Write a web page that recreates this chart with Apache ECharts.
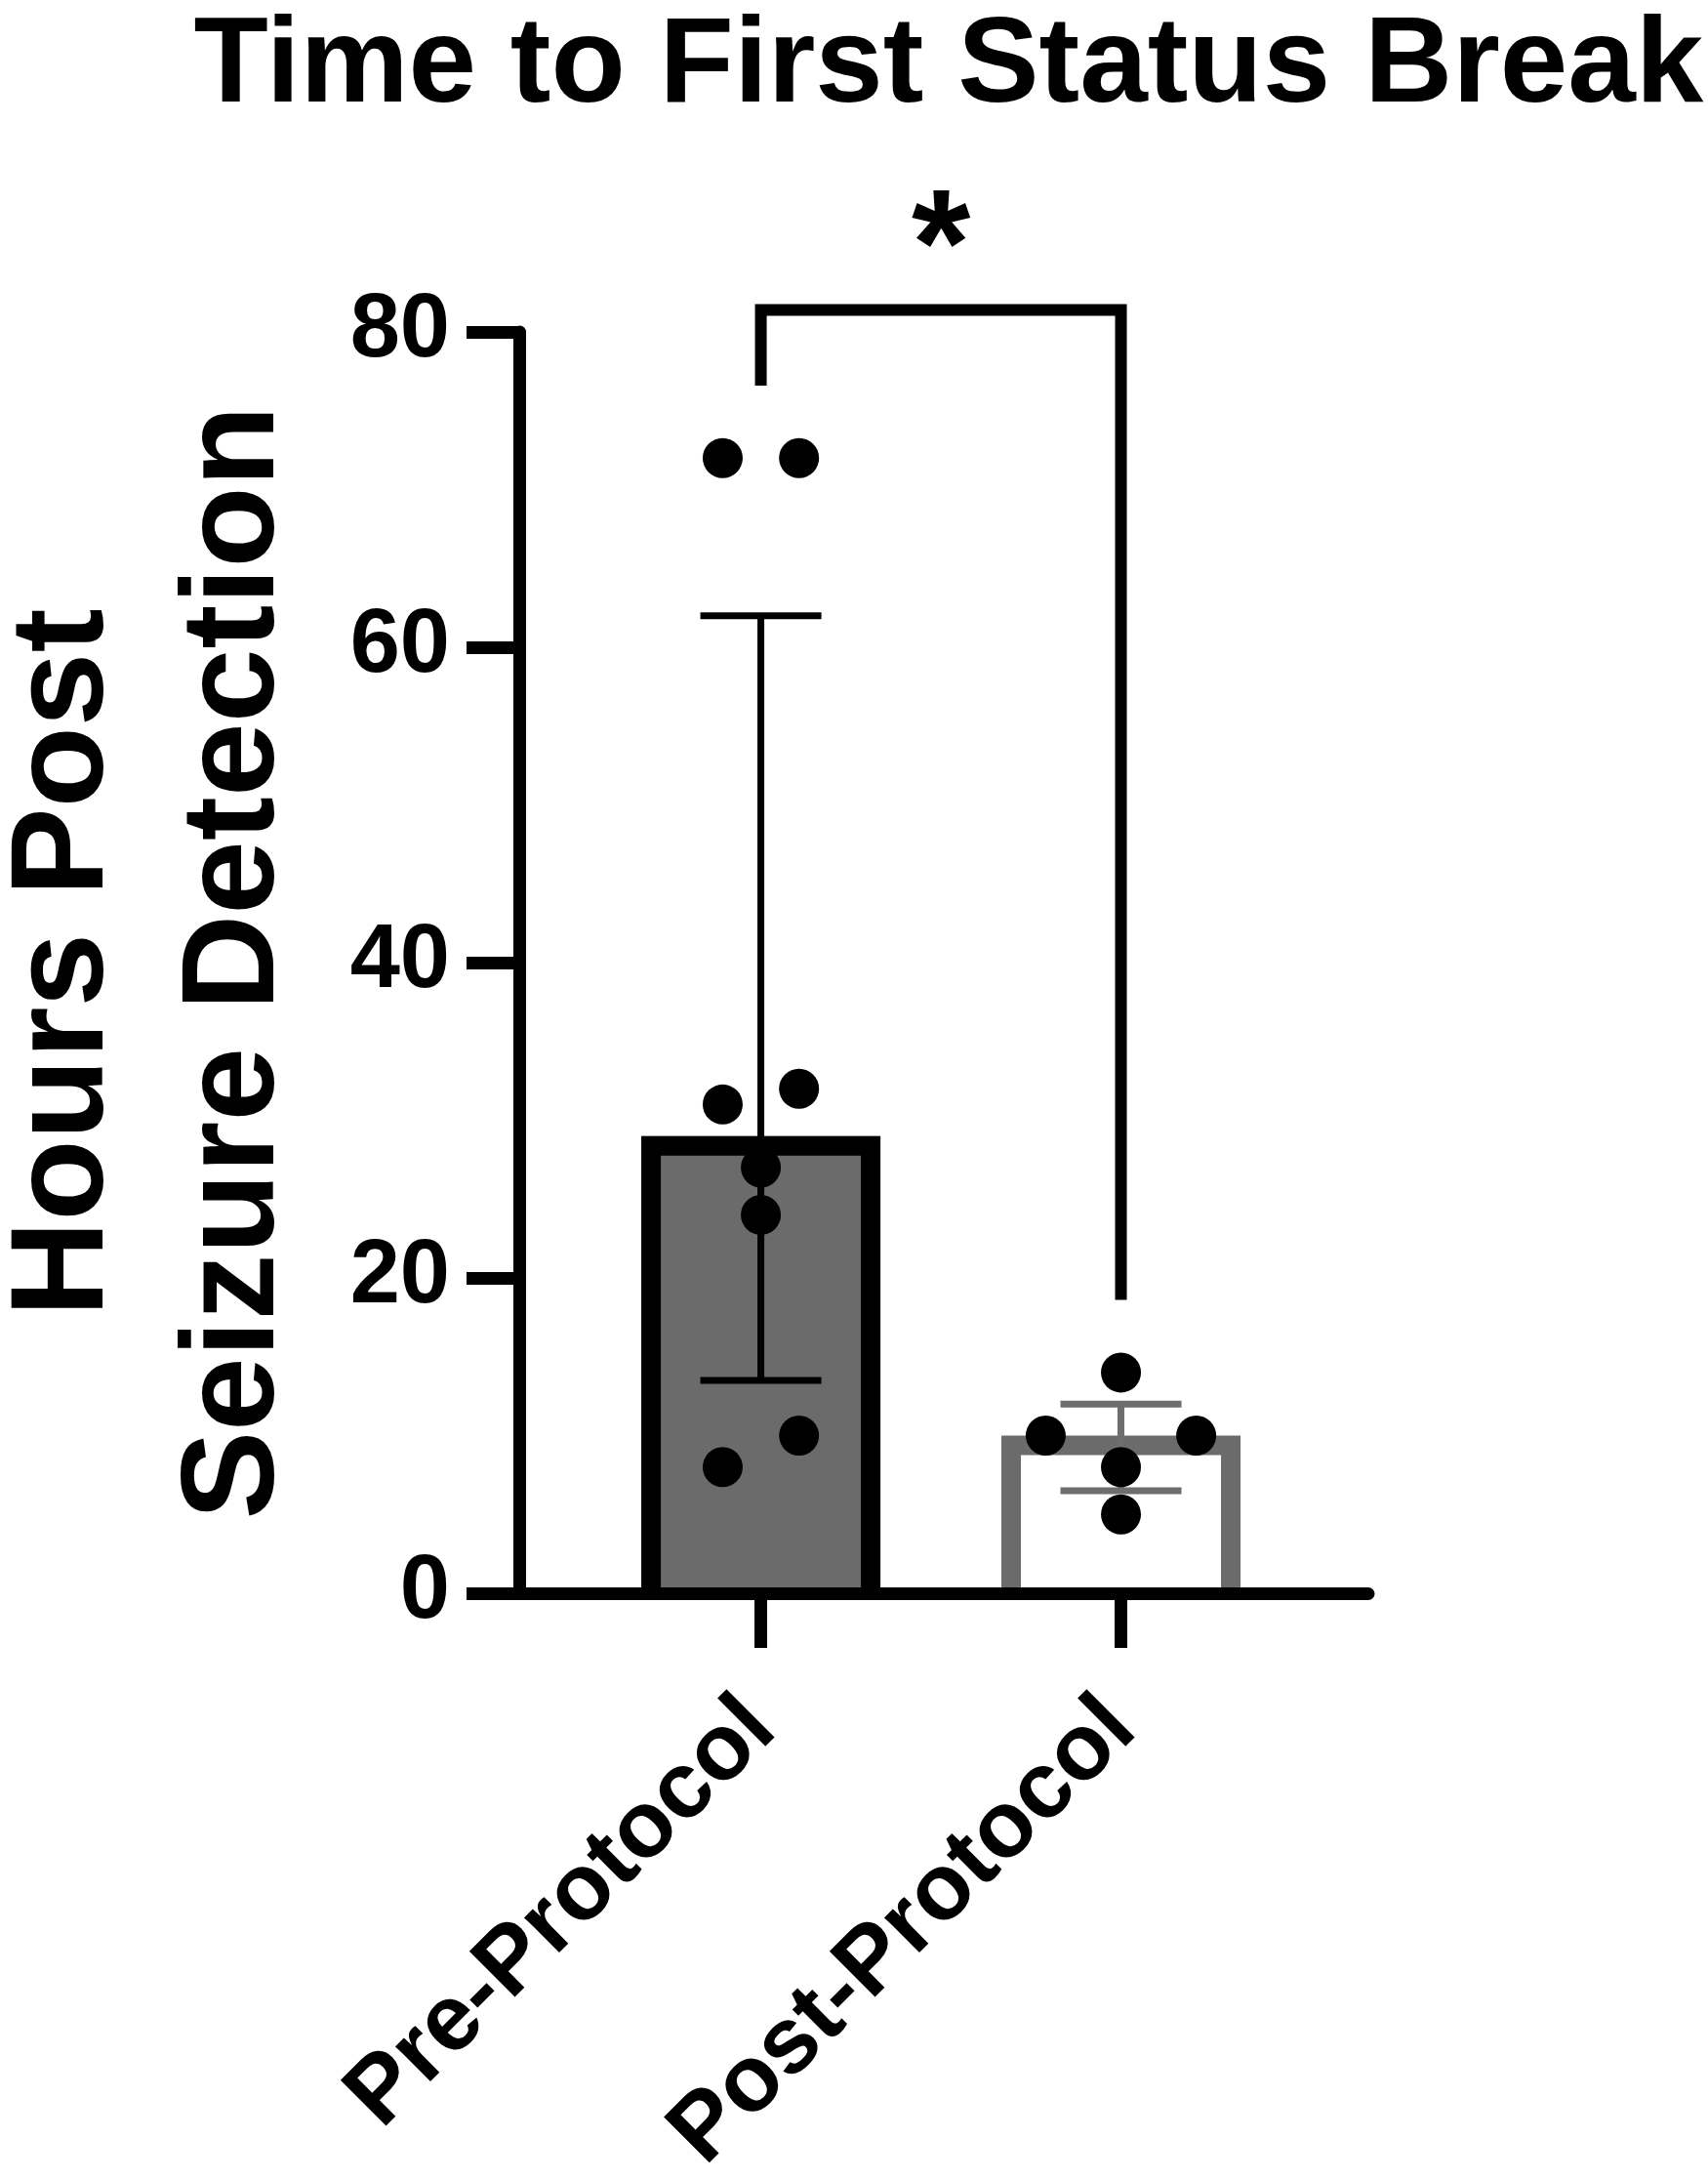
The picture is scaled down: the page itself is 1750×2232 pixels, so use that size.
<!DOCTYPE html>
<html>
<head>
<meta charset="utf-8">
<title>Time to First Status Break</title>
<script src="https://cdn.jsdelivr.net/npm/echarts@6/dist/echarts.min.js"></script>
<style>
  html, body { margin: 0; padding: 0; background: #fff; }
  #chart { width: 1750px; height: 2232px; }
</style>
</head>
<body>
<div id="chart"></div>
<script>
// data (hours)
var groups = ['Pre-Protocol', 'Post-Protocol'];
var preHours = [72, 72, 31, 32, 27, 24, 10, 8];
var postHours = [14, 10, 10, 8, 5];
// column slot of every dot (-1 left, 0 centre, 1 right)
var preSlot = [-1, 1, -1, 1, 0, 0, 1, -1];
var postSlot = [0, -1, 1, 0, 0];
var medians = [29, 10];
var iqrLow = [13.5, 6.5];
var iqrHigh = [62, 12];
var yTicks = [0, 20, 40, 60, 80];
// significance bracket: left foot, top, right foot, star
var bracket = { leftFoot: 76.6, top: 81.4, rightFoot: 18.6, star: 85 };

var FONT = '"Liberation Sans", Arial, Helvetica, sans-serif';
var preSpread = 0.106, postSpread = 0.209;
var barOuter = 245, barBorder = 20;
var barFill = ['#6b6b6b', '#ffffff'];
var barStroke = ['#000000', '#6b6b6b'];
var errColor = ['#000000', '#6e6e6e'];
var capWidth = 124, errWidth = 7;

var chart = echarts.init(document.getElementById('chart'));

var barData = medians.map(function (m, i) { return [i + 1, m]; });
var errData = medians.map(function (m, i) { return [i + 1, iqrLow[i], iqrHigh[i]]; });
var preDots = preHours.map(function (v, i) { return [1 + preSlot[i] * preSpread, v]; });
var postDots = postHours.map(function (v, i) { return [2 + postSlot[i] * postSpread, v]; });

// bar with its outline on the inside and no bottom edge
function renderBar(params, api) {
    var i = params.dataIndex;
    var top = api.coord([api.value(0), api.value(1)]);
    var base = api.coord([api.value(0), 0]);
    var x0 = top[0] - barOuter / 2, x1 = top[0] + barOuter / 2;
    var h = barBorder / 2;
    return {
        type: 'group',
        children: [
            {
                type: 'rect',
                shape: { x: x0, y: top[1], width: barOuter, height: base[1] - top[1] },
                style: { fill: barFill[i] }
            },
            {
                type: 'polyline',
                shape: { points: [[x0 + h, base[1]], [x0 + h, top[1] + h], [x1 - h, top[1] + h], [x1 - h, base[1]]] },
                style: { fill: null, stroke: barStroke[i], lineWidth: barBorder, lineJoin: 'miter' }
            }
        ]
    };
}

function renderErr(params, api) {
    var x = api.value(0);
    var lo = api.coord([x, api.value(1)]);
    var hi = api.coord([x, api.value(2)]);
    var h = capWidth / 2;
    var st = { stroke: errColor[params.dataIndex], lineWidth: errWidth };
    return {
        type: 'group',
        children: [
            { type: 'line', shape: { x1: lo[0], y1: lo[1], x2: hi[0], y2: hi[1] }, style: st },
            { type: 'line', shape: { x1: lo[0] - h, y1: lo[1], x2: lo[0] + h, y2: lo[1] }, style: st },
            { type: 'line', shape: { x1: hi[0] - h, y1: hi[1], x2: hi[0] + h, y2: hi[1] }, style: st }
        ]
    };
}

var option = {
    backgroundColor: '#ffffff',
    animation: false,
    title: {
        text: 'Time to First Status Break',
        left: 967,
        top: 2,
        textAlign: 'center',
        textStyle: { fontFamily: FONT, fontSize: 125, fontWeight: 'bold', color: '#000' }
    },
    grid: {
        left: 532,
        right: 348,
        top: 340,
        bottom: 600,
        outerBoundsMode: 'none'
    },
    xAxis: {
        type: 'value',
        min: 0.329,
        max: 2.687,
        z: 10,
        splitLine: { show: false },
        axisLine: { lineStyle: { color: '#000', width: 13 } },
        axisTick: {
            customValues: [1, 2],
            length: 56,
            lineStyle: { color: '#000', width: 13 }
        },
        axisLabel: {
            customValues: [1, 2],
            formatter: function (v) { return groups[Math.round(v) - 1]; },
            rotate: 45,
            margin: 124,
            fontFamily: FONT,
            fontSize: 96,
            fontWeight: 'bold',
            color: '#000'
        }
    },
    yAxis: {
        type: 'value',
        min: 0,
        max: 80,
        interval: 20,
        z: 10,
        name: 'Hours Post\nSeizure Detection',
        nameLocation: 'middle',
        nameRotate: 90,
        nameGap: 202,
        nameMoveOverlap: false,
        nameTextStyle: {
            fontFamily: FONT,
            fontSize: 136,
            fontWeight: 'bold',
            lineHeight: 175,
            color: '#000'
        },
        splitLine: { show: false },
        axisLine: { show: true, lineStyle: { color: '#000', width: 13 } },
        axisTick: { show: true, length: 54, lineStyle: { color: '#000', width: 13 } },
        axisLabel: {
            margin: 71,
            fontFamily: FONT,
            fontSize: 92,
            fontWeight: 'bold',
            color: '#000',
            formatter: function (v) { return yTicks.indexOf(v) >= 0 ? String(v) : ''; }
        }
    },
    series: [
        {
            name: 'median',
            type: 'custom',
            renderItem: renderBar,
            data: barData,
            z: 2
        },
        {
            name: 'IQR',
            type: 'custom',
            renderItem: renderErr,
            data: errData,
            z: 3
        },
        {
            name: groups[0],
            type: 'scatter',
            symbol: 'circle',
            symbolSize: 41,
            itemStyle: { color: '#000', opacity: 1 },
            data: preDots,
            z: 4
        },
        {
            name: groups[1],
            type: 'scatter',
            symbol: 'circle',
            symbolSize: 41,
            itemStyle: { color: '#000', opacity: 1 },
            data: postDots,
            z: 4
        },
        {
            name: 'bracket',
            type: 'line',
            clip: false,
            symbol: 'none',
            lineStyle: { color: '#000', width: 12, join: 'miter', cap: 'butt' },
            data: [[1, bracket.leftFoot], [1, bracket.top], [2, bracket.top], [2, bracket.rightFoot]],
            z: 5
        },
        {
            name: 'star',
            type: 'scatter',
            clip: false,
            symbolSize: 0,
            silent: true,
            itemStyle: { opacity: 1 },
            label: {
                show: true,
                position: 'inside',
                formatter: '*',
                fontFamily: FONT,
                fontSize: 155,
                fontWeight: 'bold',
                color: '#000'
            },
            data: [[1.5, bracket.star]],
            z: 5
        }
    ]
};

chart.setOption(option);
</script>
</body>
</html>
